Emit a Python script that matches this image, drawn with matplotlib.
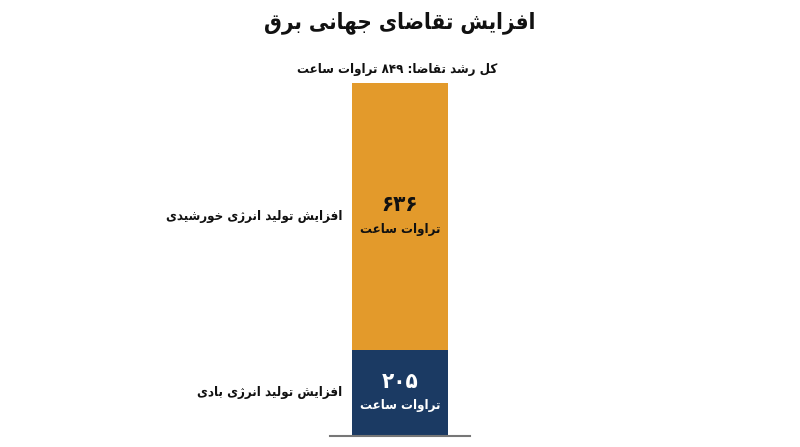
import matplotlib
matplotlib.use("Agg")
import matplotlib.pyplot as plt

# chart data
title = "افزایش تقاضای جهانی برق"
total_label = "کل رشد تقاضا: ۸۴۹ تراوات ساعت"
categories = ["افزایش تولید انرژی بادی", "افزایش تولید انرژی خورشیدی"]
values = [205, 636]
value_labels = ["۲۰۵", "۶۳۶"]
unit = "تراوات ساعت"
colors = ["#1B3A63", "#E39A2B"]
text_colors = ["white", "#111111"]

# --- minimal arabic/persian shaping (matplotlib does no shaping / bidi) ---
FORMS = {
    "ا": ("\uFE8D", "\uFE8E", None, None),
    "ب": ("\uFE8F", "\uFE90", "\uFE91", "\uFE92"),
    "ت": ("\uFE95", "\uFE96", "\uFE97", "\uFE98"),
    "ج": ("\uFE9D", "\uFE9E", "\uFE9F", "\uFEA0"),
    "خ": ("\uFEA5", "\uFEA6", "\uFEA7", "\uFEA8"),
    "د": ("\uFEA9", "\uFEAA", None, None),
    "ر": ("\uFEAD", "\uFEAE", None, None),
    "ز": ("\uFEAF", "\uFEB0", None, None),
    "ژ": ("\uFB8A", "\uFB8B", None, None),
    "س": ("\uFEB1", "\uFEB2", "\uFEB3", "\uFEB4"),
    "ش": ("\uFEB5", "\uFEB6", "\uFEB7", "\uFEB8"),
    "ض": ("\uFEBD", "\uFEBE", "\uFEBF", "\uFEC0"),
    "ع": ("\uFEC9", "\uFECA", "\uFECB", "\uFECC"),
    "ف": ("\uFED1", "\uFED2", "\uFED3", "\uFED4"),
    "ق": ("\uFED5", "\uFED6", "\uFED7", "\uFED8"),
    "ک": ("\uFB8E", "\uFB8F", "\uFB90", "\uFB91"),
    "ل": ("\uFEDD", "\uFEDE", "\uFEDF", "\uFEE0"),
    "ن": ("\uFEE5", "\uFEE6", "\uFEE7", "\uFEE8"),
    "ه": ("\uFEE9", "\uFEEA", "\uFEEB", "\uFEEC"),
    "و": ("\uFEED", "\uFEEE", None, None),
    "ی": ("\uFBFC", "\uFBFD", "\uFBFE", "\uFBFF"),
}
DIGITS = set("۰۱۲۳۴۵۶۷۸۹0123456789")


def dual(c):
    return c in FORMS and FORMS[c][2] is not None


def shape(s):
    out = []
    for i, c in enumerate(s):
        if c not in FORMS:
            out.append(c)
            continue
        prev = s[i - 1] if i > 0 else ""
        nxt = s[i + 1] if i + 1 < len(s) else ""
        join_prev = dual(prev)
        join_next = dual(c) and nxt in FORMS
        if join_prev and join_next:
            out.append(FORMS[c][3])
        elif join_prev:
            out.append(FORMS[c][1])
        elif join_next:
            out.append(FORMS[c][2])
        else:
            out.append(FORMS[c][0])
    # reverse for right-to-left, keeping digit runs in order
    runs, cur = [], ""
    for c in out:
        if cur and ((c in DIGITS) != (cur[-1] in DIGITS)):
            runs.append(cur)
            cur = ""
        cur += c
    runs.append(cur)
    return "".join(r if r[0] in DIGITS else r[::-1] for r in reversed(runs))


plt.rcParams["font.family"] = ["DejaVu Sans"]
plt.rcParams["font.stretch"] = "condensed"

fig = plt.figure(figsize=(8, 4.47), dpi=100)
ax = fig.add_axes([330 / 800, 11 / 447, 140 / 800, 353 / 447])

bar_w = 96 / 140
bottom = 0
for cat, val, vl, col, tc in zip(categories, values, value_labels, colors, text_colors):
    ax.bar(0, val, bar_w, bottom=bottom, color=col)
    mid = bottom + val / 2
    ax.annotate(shape(cat), (-bar_w / 2, mid), xytext=(-10, 0), textcoords="offset pixels",
                ha="right", va="center", fontsize=9.5, fontweight="bold", color="#111111")
    ax.annotate(shape(vl), (0, mid), xytext=(0, 11), textcoords="offset pixels",
                ha="center", va="center", fontsize=16, fontweight="bold", color=tc)
    ax.annotate(shape(unit), (0, mid), xytext=(0, -13), textcoords="offset pixels",
                ha="center", va="center", fontsize=9.5, fontweight="bold", color=tc)
    bottom += val

ax.set_xlim(-0.5, 0.5)
ax.set_ylim(0, sum(values))
for side in ["top", "left", "right"]:
    ax.spines[side].set_visible(False)
ax.spines["bottom"].set_color("#777777")
ax.spines["bottom"].set_linewidth(1.5)
ax.set_xticks([])
ax.set_yticks([])

fig.text(0.5, 1 - 23 / 447, shape(title), ha="center", va="center",
         fontsize=16, fontweight="bold", color="#111111")
fig.text(397 / 800, 1 - 69 / 447, shape(total_label), ha="center", va="center",
         fontsize=9.5, fontweight="bold", color="#111111")

fig.savefig("out.png", dpi=100)
